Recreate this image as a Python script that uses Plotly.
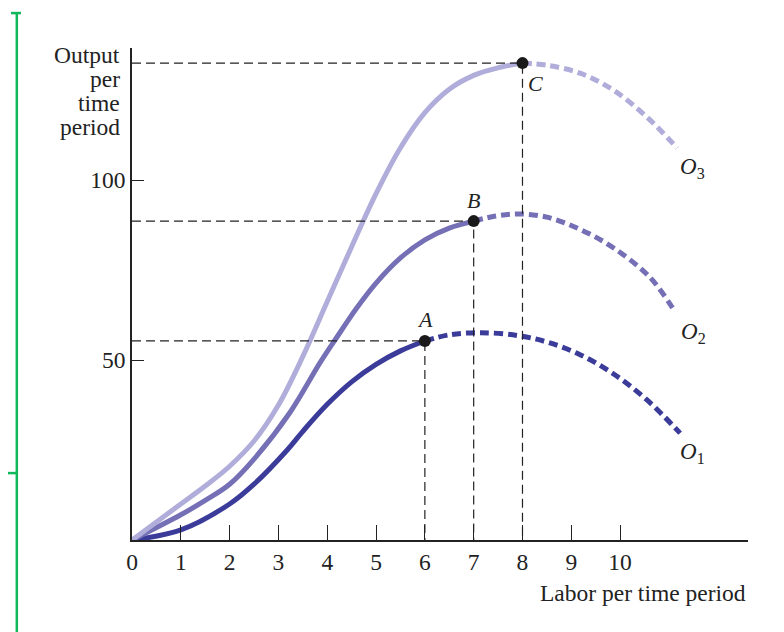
import plotly.graph_objects as go

# production curves: solid part up to the marked point, dashed part after it
o1_x = [0, 1, 2, 2.5, 3.18, 3.5, 4, 4.5, 5, 5.5, 6.0]
o1_y = [0, 2.8, 10, 15.5, 25, 30.2, 37.7, 43.95, 48.8, 52.55, 55.3]
o1d_x = [6.0, 6.5, 7.13, 7.91, 8.5, 9.18, 9.86, 10.55, 11.23]
o1d_y = [55.3, 57.0, 57.6, 56.8, 55, 51.5, 46.2, 38.9, 29.7]

o2_x = [0, 1, 1.5, 2, 2.5, 3.24, 3.85, 4.2, 4.6, 5, 5.5, 6, 6.5, 7.0]
o2_y = [0, 7, 11, 15.5, 22.5, 35.5, 49.2, 56.4, 64.4, 71.4, 78.4, 83.4, 86.65, 88.6]
o2d_x = [7.0, 7.45, 7.91, 8.5, 9.18, 9.86, 10.61, 11.13]
o2d_y = [88.6, 90.0, 90.6, 89.7, 86.3, 81.2, 73, 63.3]

o3_x = [0, 1, 1.5, 2, 2.5, 3, 3.5, 4, 4.5, 5, 5.5, 6, 6.5, 7, 7.5, 8.0]
o3_y = [0, 10, 15, 20.5, 27.5, 37.5, 51, 66.25, 81.5, 96.25, 109, 118.75, 125.25, 129.1, 131.2, 132.5]
o3d_x = [8.0, 8.5, 9.18, 9.86, 10.55, 11.17]
o3d_y = [132.5, 131.9, 129.7, 125, 117.5, 108.9]

pt_names = ['A', 'B', 'C']
pt_x = [6, 7, 8]
pt_y = [55.3, 88.6, 132.5]

x_ticks = list(range(0, 11))
y_ticks = [50, 100]

c1 = '#3b3b9a'
c2 = '#7570b6'
c3 = '#b1addb'
ink = '#222222'
serif = 'Liberation Serif'

fig = go.Figure()

for xs, ys, xd, yd, col in [(o1_x, o1_y, o1d_x, o1d_y, c1),
                            (o2_x, o2_y, o2d_x, o2d_y, c2),
                            (o3_x, o3_y, o3d_x, o3d_y, c3)]:
    fig.add_trace(go.Scatter(x=xs, y=ys, mode='lines', line=dict(color=col, width=5, shape='spline'),
                             showlegend=False, hoverinfo='skip'))
    fig.add_trace(go.Scatter(x=xd, y=yd, mode='lines',
                             line=dict(color=col, width=5, shape='spline', dash='9px,5px'),
                             showlegend=False, hoverinfo='skip'))

# dashed guide lines from each point to the axes
for px, py in zip(pt_x, pt_y):
    fig.add_trace(go.Scatter(x=[0, px, px], y=[py, py, 0], mode='lines',
                             line=dict(color=ink, width=1.2, dash='9px,5px'),
                             showlegend=False, hoverinfo='skip'))

fig.add_trace(go.Scatter(x=pt_x, y=pt_y, mode='markers',
                         marker=dict(color='#1a1a1a', size=12), showlegend=False, hoverinfo='skip'))

lab_font = dict(family=serif, size=22, color=ink)
fig.add_annotation(x=pt_x[0], y=pt_y[0], text='<i>A</i>', showarrow=False, yshift=21, font=lab_font)
fig.add_annotation(x=pt_x[1], y=pt_y[1], text='<i>B</i>', showarrow=False, yshift=21, font=lab_font)
fig.add_annotation(x=pt_x[2], y=pt_y[2], text='<i>C</i>', showarrow=False, xshift=13, yshift=-20, font=lab_font)

for name, xv, yv in [('1', 11.48, 24.2), ('2', 11.5, 57.5), ('3', 11.48, 103.3)]:
    fig.add_annotation(x=xv, y=yv, text='<i>O</i><sub>' + name + '</sub>', showarrow=False,
                       font=dict(family=serif, size=23, color=ink))

fig.add_annotation(xref='paper', yref='paper', x=1.0, y=-0.1077, xanchor='right', yanchor='middle',
                   text='Labor per time period', showarrow=False,
                   font=dict(family=serif, size=23.5, color=ink))
for line, yp in zip(['Output', 'per', 'time', 'period'], [0.9858, 0.937, 0.8882, 0.8394]):
    fig.add_annotation(xref='paper', yref='paper', x=-0.0162, y=yp, xanchor='right', yanchor='middle',
                       text=line, showarrow=False, font=dict(family=serif, size=23.5, color=ink))

# green margin marks from the scanned page
green = '#11b85a'
fig.add_shape(type='line', xref='paper', yref='paper', x0=-0.187, x1=-0.187, y0=1.071, y1=-0.2,
              line=dict(color=green, width=2.5))
fig.add_shape(type='line', xref='paper', yref='paper', x0=-0.1964, x1=-0.1802, y0=1.071, y1=1.071,
              line=dict(color=green, width=2.5))
fig.add_shape(type='line', xref='paper', yref='paper', x0=-0.21, x1=-0.187, y0=0.136, y1=0.136,
              line=dict(color=green, width=2.5))
fig.add_shape(type='rect', xref='paper', yref='paper', x0=1.052, x1=1.056, y0=-0.178, y1=-0.172,
              line=dict(width=0), fillcolor=green)

axis_font = dict(family=serif, size=23.5, color=ink)
fig.update_xaxes(range=[0, 12.62], tickvals=x_ticks, ticks='inside', ticklen=15, tickwidth=1.3,
                 tickcolor=ink, showline=True, linecolor=ink, linewidth=1.5,
                 showgrid=False, zeroline=False, tickfont=axis_font)
fig.update_yaxes(range=[0, 136.7], tickvals=y_ticks, ticks='inside', ticklen=12, tickwidth=1.3,
                 tickcolor=ink, showline=True, linecolor=ink, linewidth=1.5,
                 showgrid=False, zeroline=False, tickfont=axis_font)

fig.update_layout(width=784, height=632, margin=dict(l=124, r=44, t=40, b=100),
                  paper_bgcolor='white', plot_bgcolor='white')

fig.write_html("out.html")
